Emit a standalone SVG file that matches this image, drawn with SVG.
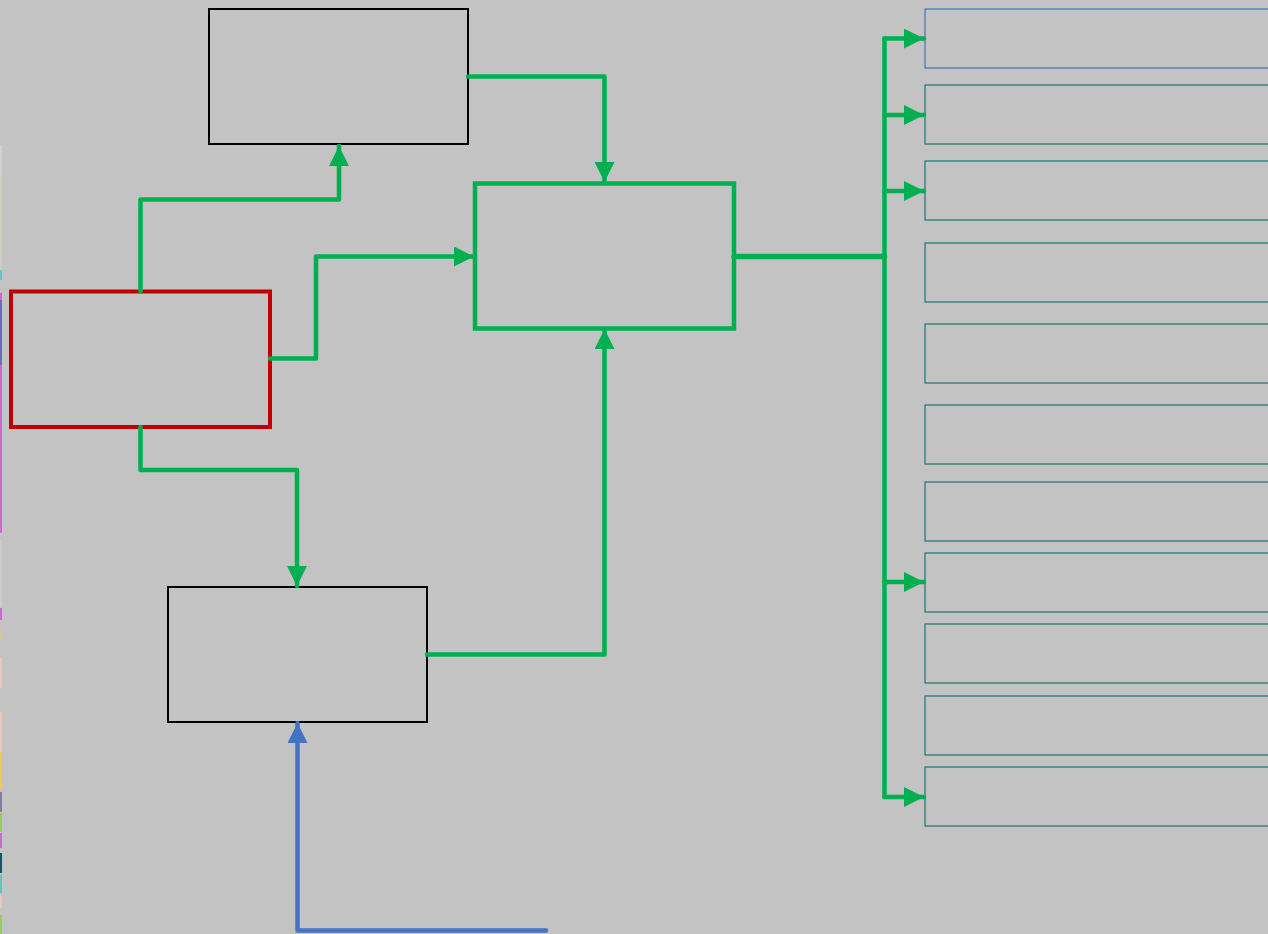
<svg xmlns="http://www.w3.org/2000/svg" width="1268" height="934" viewBox="0 0 1268 934">
<defs>
<style>
.bg{fill:#C3C3C3}
.blk{fill:none;stroke:#000;stroke-width:2}
.tl{fill:none;stroke:#1B7470;stroke-width:1.2}
.g{fill:none;stroke:#00B050;stroke-width:4.5;stroke-linejoin:round;stroke-linecap:round}
.b{fill:none;stroke:#4472C4;stroke-width:4.5;stroke-linejoin:round;stroke-linecap:round}
</style>
<marker id="ag" markerUnits="userSpaceOnUse" markerWidth="20" markerHeight="20" viewBox="0 0 20 20" refX="20" refY="10" orient="auto">
<path d="M0,0 L20,10 L0,20 Z" fill="#00B050"/>
</marker>
<marker id="ab" markerUnits="userSpaceOnUse" markerWidth="20" markerHeight="20" viewBox="0 0 20 20" refX="20" refY="10" orient="auto">
<path d="M0,0 L20,10 L0,20 Z" fill="#4472C4"/>
</marker>
</defs>
<rect class="bg" x="0" y="0" width="1268" height="934"/>
<g id="edge-strips">
<rect x="0" y="145" width="2" height="30" fill="#D6CCD6"/>
<rect x="0" y="175" width="2" height="95" fill="#CFCFC0"/>
<rect x="0" y="270" width="2" height="10" fill="#5CC8C8"/>
<rect x="0" y="293" width="2" height="240" fill="#D466D4"/>
<rect x="0" y="300" width="2" height="65" fill="#6A6ACC"/>
<rect x="0" y="540" width="2" height="67" fill="#CCCCCC"/>
<rect x="0" y="608" width="2" height="12" fill="#D466D4"/>
<rect x="0" y="633" width="2" height="4" fill="#E0CC66"/>
<rect x="0" y="658" width="2" height="30" fill="#E6C8C0"/>
<rect x="0" y="712" width="2" height="40" fill="#E6C8C0"/>
<rect x="0" y="752" width="2" height="38" fill="#E8CC55"/>
<rect x="0" y="792" width="2" height="20" fill="#8A7AA0"/>
<rect x="0" y="813" width="2" height="19" fill="#99CC55"/>
<rect x="0" y="833" width="2" height="15" fill="#D466D4"/>
<rect x="0" y="853" width="2" height="20" fill="#0E5A60"/>
<rect x="0" y="875" width="2" height="18" fill="#5CC8B4"/>
<rect x="0" y="895" width="2" height="13" fill="#E6C8C0"/>
<rect x="0" y="915" width="2" height="19" fill="#99CC55"/>
</g>
<g id="node-top"><rect class="blk" x="209" y="9" width="259" height="135"/></g>
<g id="node-red"><rect x="11" y="291.5" width="259" height="135.5" fill="none" stroke="#C00000" stroke-width="4"/></g>
<g id="node-center"><rect x="475" y="183.5" width="259" height="145" fill="none" stroke="#00B050" stroke-width="4.5"/></g>
<g id="node-bottom"><rect class="blk" x="168" y="587" width="259" height="135"/></g>
<g id="node-r1"><rect x="925" y="9" width="350" height="59" fill="none" stroke="#4472C4" stroke-width="1.2"/></g>
<g id="node-r2"><rect class="tl" x="925" y="85" width="350" height="59"/></g>
<g id="node-r3"><rect class="tl" x="925" y="161" width="350" height="59"/></g>
<g id="node-r4"><rect class="tl" x="925" y="243" width="350" height="59"/></g>
<g id="node-r5"><rect class="tl" x="925" y="324" width="350" height="59"/></g>
<g id="node-r6"><rect class="tl" x="925" y="405" width="350" height="59"/></g>
<g id="node-r7"><rect class="tl" x="925" y="482" width="350" height="59"/></g>
<g id="node-r8"><rect class="tl" x="925" y="553" width="350" height="59"/></g>
<g id="node-r9"><rect class="tl" x="925" y="624" width="350" height="59"/></g>
<g id="node-r10"><rect class="tl" x="925" y="696" width="350" height="59"/></g>
<g id="node-r11"><rect class="tl" x="925" y="767" width="350" height="59"/></g>
<g id="connectors">
<path class="g" d="M140.5,291 V199.5 H339 V146" marker-end="url(#ag)"/>
<path class="g" d="M270,358.5 H316 V256.5 H474" marker-end="url(#ag)"/>
<path class="g" d="M140.5,427 V470 H297 V586" marker-end="url(#ag)"/>
<path class="g" d="M468,76.5 H604.5 V182" marker-end="url(#ag)"/>
<path class="g" d="M427,654.5 H604.5 V329" marker-end="url(#ag)"/>
<path class="g" d="M734,256.5 H884.5" style="stroke-width:5.5"/>
<path class="g" d="M884.5,797 V38.5"/>
<path class="g" d="M884.5,38.5 H924" marker-end="url(#ag)"/>
<path class="g" d="M884.5,115 H924" marker-end="url(#ag)"/>
<path class="g" d="M884.5,191 H924" marker-end="url(#ag)"/>
<path class="g" d="M884.5,582 H924" marker-end="url(#ag)"/>
<path class="g" d="M884.5,797 H924" marker-end="url(#ag)"/>
<path class="b" d="M546,930.5 H297.5 V723" marker-end="url(#ab)"/>
</g>
</svg>
